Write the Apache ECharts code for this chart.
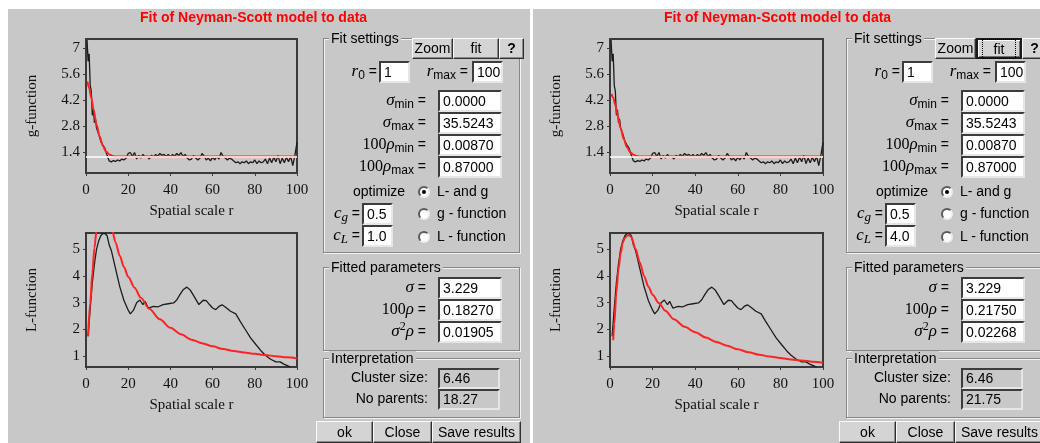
<!DOCTYPE html>
<html>
<head>
<meta charset="utf-8">
<title>Fit of Neyman-Scott model to data</title>
<script src="https://cdn.jsdelivr.net/npm/echarts@6/dist/echarts.min.js"></script>
<style>
    html, body { margin: 0; padding: 0; width: 1040px; height: 443px; overflow: hidden; background: #fff; }
    .panel { position: absolute; top: 9px; height: 434px; background: #c8c8c8; }
    #chart { position: absolute; left: 0; top: 0; width: 1040px; height: 443px; }
    #widgets { position: absolute; left: 0; top: 0; width: 1040px; height: 443px; }
    .w { position: absolute; box-sizing: border-box; white-space: nowrap; color: #000;
         font-family: "Liberation Sans", Arial, sans-serif; font-size: 14px; }
    .group { border: 1px solid #868686; box-shadow: inset 1px 1px 0 #f2f2f2, 1px 1px 0 #f2f2f2; }
    .glabel { background: #c8c8c8; padding: 0 2px; line-height: 14px; }
    .btn { background: #d4d4d4; border: 1px solid; border-color: #fafafa #303030 #303030 #fafafa;
           box-shadow: inset -1px -1px 0 #8a8a8a; text-align: center; }
    .btn.focus { border: 2px solid #1a1a1a; box-shadow: inset 1px 1px 0 #fafafa, inset -1px -1px 0 #707070; }
    .btn.focus span { outline: 1px dotted #000; outline-offset: 1px; padding: 0 10px; }
    .edit { background: #fff; border: 2px solid; border-color: #3c3c3c #e6e6e6 #e6e6e6 #3c3c3c; padding-left: 3px; }
    .edit.ro { background: #c8c8c8; }
    .lbl { text-align: right; }
    .m { font-family: "Liberation Serif", serif; font-style: italic; font-size: 17px; }
    .n { font-family: "Liberation Serif", serif; font-size: 16px; }
    .sub { font-size: 12px; position: relative; top: 3px; }
    .msub { font-family: "Liberation Serif", serif; font-style: italic; font-size: 13px; position: relative; top: 3px; }
    .radio { width: 12px; height: 12px; border-radius: 50%; background: #fff; border: 2px solid;
             border-color: #5a5a5a #eeeeee #eeeeee #5a5a5a; }
    .radio.on::after { content: ""; position: absolute; left: 2px; top: 2px; width: 4px; height: 4px;
                       border-radius: 50%; background: #000; }
</style>
</head>
<body>
<div class="panel" style="left:8px;width:522px"></div>
<div class="panel" style="left:533px;width:507px"></div>
<div id="chart"></div>
<div id="widgets"></div>
<script>
// 观测 g 函数 (黑线)
const gR = [0.5, 1, 1.5, 2, 2.5, 3, 3.5, 4, 4.5, 5,
    6, 7, 8, 9, 10, 11, 12, 13, 14, 15, 16, 17, 18, 19, 20,
    21, 22, 23, 24, 25, 26, 27, 28, 29, 30, 31, 32, 33, 34, 35,
    36, 37, 38, 39, 40, 41, 42, 43, 44, 45, 46, 47, 48, 49, 50,
    51, 52, 53, 54, 55, 56, 57, 58, 59, 60, 61, 62, 63, 64, 65,
    66, 67, 68, 69, 70, 71, 72, 73, 74, 75, 76, 77, 78, 79, 80,
    81, 82, 83, 84, 85, 86, 87, 88, 89, 90, 91, 92, 93, 94, 95,
    96, 97, 98, 99, 100];
const gObs = [7.45, 6.3, 6.7, 5.0, 4.7, 3.4, 3.7, 3.0, 3.2, 2.7,
    2.4, 2.0, 1.8, 1.62, 1.25, 0.95, 0.9, 0.97, 0.92, 1.0, 0.95, 1.05, 1.0, 1.1, 1.35,
    1.4, 1.2, 1.4, 1.05, 1.25, 1.1, 1.3, 1.15, 1.2, 1.05, 1.25, 1.15, 1.3, 1.2, 1.35,
    1.25, 1.3, 1.2, 1.3, 1.15, 1.3, 1.2, 1.35, 1.25, 1.4, 1.2, 1.3, 1.1, 1.0, 1.05,
    1.25, 1.1, 1.0, 1.1, 1.35, 1.2, 1.0, 1.1, 0.95, 1.15, 1.0, 1.2, 1.05, 1.4, 1.2,
    1.1, 1.0, 1.1, 1.05, 0.95, 0.85, 0.9, 0.8, 0.9, 0.85, 0.95, 0.8, 0.9, 0.85, 1.0,
    0.8, 0.95, 0.85, 0.9, 1.05, 0.8, 1.1, 0.85, 1.15, 0.9, 1.25, 0.8, 1.1, 0.85, 1.15,
    0.9, 1.2, 0.7, 1.25, 1.95];

// 观测 L 函数 (黑线)
const lR = [1, 2, 3, 4, 5, 6, 7, 8, 9, 10, 11, 12, 14, 16, 18, 20, 21, 22.5, 24, 25.5,
    27, 28, 29.5, 32, 34, 36.5, 39, 41.5, 43, 44.5, 46, 47.8, 49.5, 51.5, 53.5, 55.5, 57,
    58.5, 60, 61.5, 63, 64.5, 66, 68.5, 71, 73, 75.5, 78, 80.5, 83, 85, 87.5, 90, 92, 94, 96, 97];
const lObs = [1.75, 2.8, 3.75, 4.45, 5.0, 5.3, 5.5, 5.58, 5.58, 5.5, 5.15, 4.95, 4.27, 3.6, 3.08, 2.72, 2.58, 2.72, 3.0, 3.1,
    2.93, 3.05, 2.8, 2.86, 2.84, 2.93, 2.96, 2.99, 3.1, 3.3, 3.48, 3.58, 3.46, 3.2, 2.93, 3.09, 3.08,
    2.93, 2.8, 2.74, 2.86, 2.92, 2.84, 2.68, 2.58, 2.31, 2.0, 1.69, 1.44, 1.2, 1.04, 0.89, 0.79, 0.79, 0.7, 0.63, 0.6];

// 拟合 g (红线): 左 cL=1.0, 右 cL=4.0
const gFitR = [0.7, 1.5, 2.5, 3.5, 5, 6.5, 8, 9.5, 11, 12.5, 14, 16, 30, 50, 70, 100];
const gFitLeft = [5.22, 4.85, 4.35, 3.75, 2.9, 2.25, 1.75, 1.45, 1.3, 1.22, 1.19, 1.18, 1.18, 1.18, 1.18, 1.18];
const gFitRight = [4.55, 4.35, 3.95, 3.45, 2.7, 2.1, 1.68, 1.42, 1.28, 1.21, 1.19, 1.18, 1.18, 1.18, 1.18, 1.18];
const gRef = 1.18;

// 拟合 L (红线)
const lFitRLeft = [1, 2, 3, 4, 5, 6, 7, 8, 9, 10, 12, 14, 16, 18, 20, 23, 26, 30, 35, 40, 45, 50, 55, 60, 65, 70, 75, 80, 85, 90, 95, 100];
const lFitLeft = [1.75, 3.0, 4.1, 5.05, 5.7, 6.1, 6.3, 6.35, 6.3, 6.2, 5.85, 5.25, 4.75, 4.33, 3.97, 3.56, 3.18, 2.77, 2.38, 2.06,
    1.82, 1.62, 1.49, 1.37, 1.27, 1.2, 1.14, 1.09, 1.05, 1.0, 0.96, 0.92];
const lFitRRight = [1.5, 2, 3, 4, 5, 6, 7, 8, 9, 10, 12, 14, 16, 18, 20, 23, 26, 30, 35, 40, 45, 50, 55, 60, 65, 70, 75, 80, 85, 90, 95, 100];
const lFitRight = [1.6, 2.2, 3.4, 4.25, 4.85, 5.25, 5.42, 5.5, 5.52, 5.45, 5.0, 4.5, 4.0, 3.6, 3.3, 2.98, 2.7, 2.38, 2.1, 1.9,
    1.7, 1.53, 1.39, 1.26, 1.15, 1.06, 0.99, 0.94, 0.88, 0.84, 0.8, 0.76];

// 刻度
const gTicks = [1.4, 2.8, 4.2, 5.6, 7];
const lTicks = [1, 2, 3, 4, 5];

// 对话框参数
const leftParams = { cL: '1.0', rho: '0.18270', s2rho: '0.01905', parents: '18.27', focus: false };
const rightParams = { cL: '4.0', rho: '0.21750', s2rho: '0.02268', parents: '21.75', focus: true };

const zip = (xs, ys) => xs.map((x, i) => [x, ys[i]]);

// 图表
(function () {
    const chart = echarts.init(document.getElementById('chart'))
    const serif = 'Liberation Serif'
    const grids = [
        { left: 86, top: 39, width: 211, height: 134 },
        { left: 86, top: 233, width: 211, height: 134 },
        { left: 610, top: 39, width: 213, height: 134 },
        { left: 610, top: 233, width: 213, height: 134 }
    ].map(g => Object.assign(g, {
        show: true, backgroundColor: 'transparent', borderColor: '#3a3a3a', borderWidth: 2
    }))
    const xAxis = grids.map((g, i) => ({
        type: 'value', gridIndex: i, min: 0, max: 100, interval: 20,
        axisLine: { show: false },
        axisTick: { show: true, length: 3, lineStyle: { color: '#3a3a3a' } },
        splitLine: { show: false },
        axisLabel: { color: '#111', fontFamily: serif, fontSize: 15, margin: 10 },
        name: 'Spatial scale r', nameLocation: 'middle', nameGap: 31,
        nameTextStyle: { color: '#111', fontFamily: serif, fontSize: 15 }
    }))
    const yAxis = grids.map((g, i) => {
        const isG = i % 2 === 0
        const ticks = isG ? gTicks : lTicks
        return {
            type: 'value', gridIndex: i,
            min: isG ? 0.3 : 0.6, max: isG ? 7.5 : 5.6,
            axisLine: { show: false },
            axisTick: { show: true, length: 3, customValues: ticks, lineStyle: { color: '#3a3a3a' } },
            splitLine: { show: false },
            axisLabel: { color: '#111', fontFamily: serif, fontSize: 15, margin: 6, customValues: ticks },
            name: isG ? 'g-function' : 'L-function', nameLocation: 'middle', nameGap: 46,
            nameTextStyle: { color: '#111', fontFamily: serif, fontSize: 15 }
        }
    })
    const black = (i, data) => ({
        type: 'line', xAxisIndex: i, yAxisIndex: i, data, showSymbol: false, z: 3,
        lineStyle: { color: '#1c1c1c', width: 1.3 }
    })
    const red = (i, data) => ({
        type: 'line', xAxisIndex: i, yAxisIndex: i, data, showSymbol: false, z: 4,
        smooth: 0.3, smoothMonotone: 'x',
        lineStyle: { color: '#ff2222', width: 2 }
    })
    const ref = i => ({
        type: 'line', xAxisIndex: i, yAxisIndex: i, data: [], z: 2,
        markLine: { silent: true, symbol: 'none', label: { show: false },
            lineStyle: { color: '#ffffff', width: 1.5, type: 'solid' }, data: [{ yAxis: gRef }] }
    })
    const option = {
        animation: false,
        title: [
            { text: 'Fit of Neyman-Scott model to data', left: 140, top: 11 },
            { text: 'Fit of Neyman-Scott model to data', left: 664, top: 11 }
        ].map(t => Object.assign(t, {
            padding: 0,
            textStyle: { color: '#ff0000', fontFamily: 'Liberation Sans', fontWeight: 'bold', fontSize: 14 }
        })),
        grid: grids,
        xAxis,
        yAxis,
        series: [
            ref(0), black(0, zip(gR, gObs)), red(0, zip(gFitR, gFitLeft)),
            black(1, zip(lR, lObs)), red(1, zip(lFitRLeft, lFitLeft)),
            ref(2), black(2, zip(gR, gObs)), red(2, zip(gFitR, gFitRight)),
            black(3, zip(lR, lObs)), red(3, zip(lFitRRight, lFitRight))
        ]
    }
    chart.setOption(option)
})();

// 对话框控件
(function () {
    function el(cls, x, y, w, h, html, style) {
        let css = `left:${x}px;top:${y}px;`
        if (w != null) css += `width:${w}px;`
        if (h != null) css += `height:${h}px;line-height:${h - (cls.includes('edit') ? 4 : 2)}px;`
        return `<div class="w ${cls}" style="${css}${style || ''}">${html || ''}</div>`
    }
    const sig = '<span class="m">σ</span>'
    const rho = '<span class="m">ρ</span>'
    function dialog(dx, p) {
        const X = x => x + dx
        let s = ''
        // Fit settings
        s += el('group', X(323), 38, 197, 215)
        s += el('glabel', X(329), 31, null, null, 'Fit settings')
        s += el('btn', X(412), 38, 41, 21, 'Zoom')
        s += el('btn' + (p.focus ? ' focus' : ''), X(453), 38, 46, 21, p.focus ? '<span>fit</span>' : 'fit')
        s += el('btn', X(499), 38, 25, 21, '<b>?</b>')
        s += el('lbl', X(336), 61, 41, 22, '<span class="m">r</span><span class="sub">0</span> =')
        s += el('edit', X(379), 61, 31, 22, '1')
        s += el('lbl', X(410), 61, 58, 22, '<span class="m">r</span><span class="sub">max</span> =')
        s += el('edit', X(472), 61, 31, 22, '100')
        const rows = [
            [sig + '<span class="sub">min</span> =', '0.0000'],
            [sig + '<span class="sub">max</span> =', '35.5243'],
            ['<span class="n">100</span>' + rho + '<span class="sub">min</span> =', '0.00870'],
            ['<span class="n">100</span>' + rho + '<span class="sub">max</span> =', '0.87000']
        ]
        rows.forEach((r, i) => {
            s += el('lbl', X(330), 90 + i * 22, 96, 22, r[0])
            s += el('edit', X(438), 90 + i * 22, 64, 22, r[1])
        })
        s += el('', X(353), 184, null, 16, 'optimize')
        const radios = ['L- and g', 'g - function', 'L - function']
        radios.forEach((t, i) => {
            const cy = [192, 214, 237][i]
            s += el('radio' + (i === 0 ? ' on' : ''), X(418), cy - 6, 12, 12)
            s += el('', X(437), cy - 8, null, 16, t)
        })
        s += el('lbl', X(322), 203, 38, 22, '<span class="m">c</span><span class="msub">g</span> =')
        s += el('edit', X(362), 203, 31, 22, '0.5')
        s += el('lbl', X(322), 225, 38, 22, '<span class="m">c</span><span class="msub">L</span> =')
        s += el('edit', X(362), 225, 31, 22, p.cL)
        // Fitted parameters
        s += el('group', X(323), 267, 197, 84)
        s += el('glabel', X(329), 260, null, null, 'Fitted parameters')
        const fit = [
            [sig + ' =', '3.229'],
            ['<span class="n">100</span>' + rho + ' =', p.rho],
            [sig + '<span class="n" style="position:relative;top:-6px;font-size:12px">2</span>' + rho + ' =', p.s2rho]
        ]
        fit.forEach((r, i) => {
            s += el('lbl', X(330), 277 + i * 22, 96, 22, r[0])
            s += el('edit', X(438), 277 + i * 22, 64, 22, r[1])
        })
        // Interpretation
        s += el('group', X(323), 358, 197, 60)
        s += el('glabel', X(329), 351, null, null, 'Interpretation')
        s += el('lbl', X(330), 368, 98, 21, 'Cluster size:')
        s += el('edit ro', X(438), 368, 62, 21, '6.46')
        s += el('lbl', X(330), 389, 98, 21, 'No parents:')
        s += el('edit ro', X(438), 389, 62, 21, p.parents)
        // 底部按钮
        s += el('btn', X(316), 421, 57, 22, 'ok')
        s += el('btn', X(373), 421, 59, 22, 'Close')
        s += el('btn', X(432), 421, 89, 22, 'Save results')
        return s
    }
    document.getElementById('widgets').innerHTML = dialog(0, leftParams) + dialog(523, rightParams)
})();
</script>
</body>
</html>
